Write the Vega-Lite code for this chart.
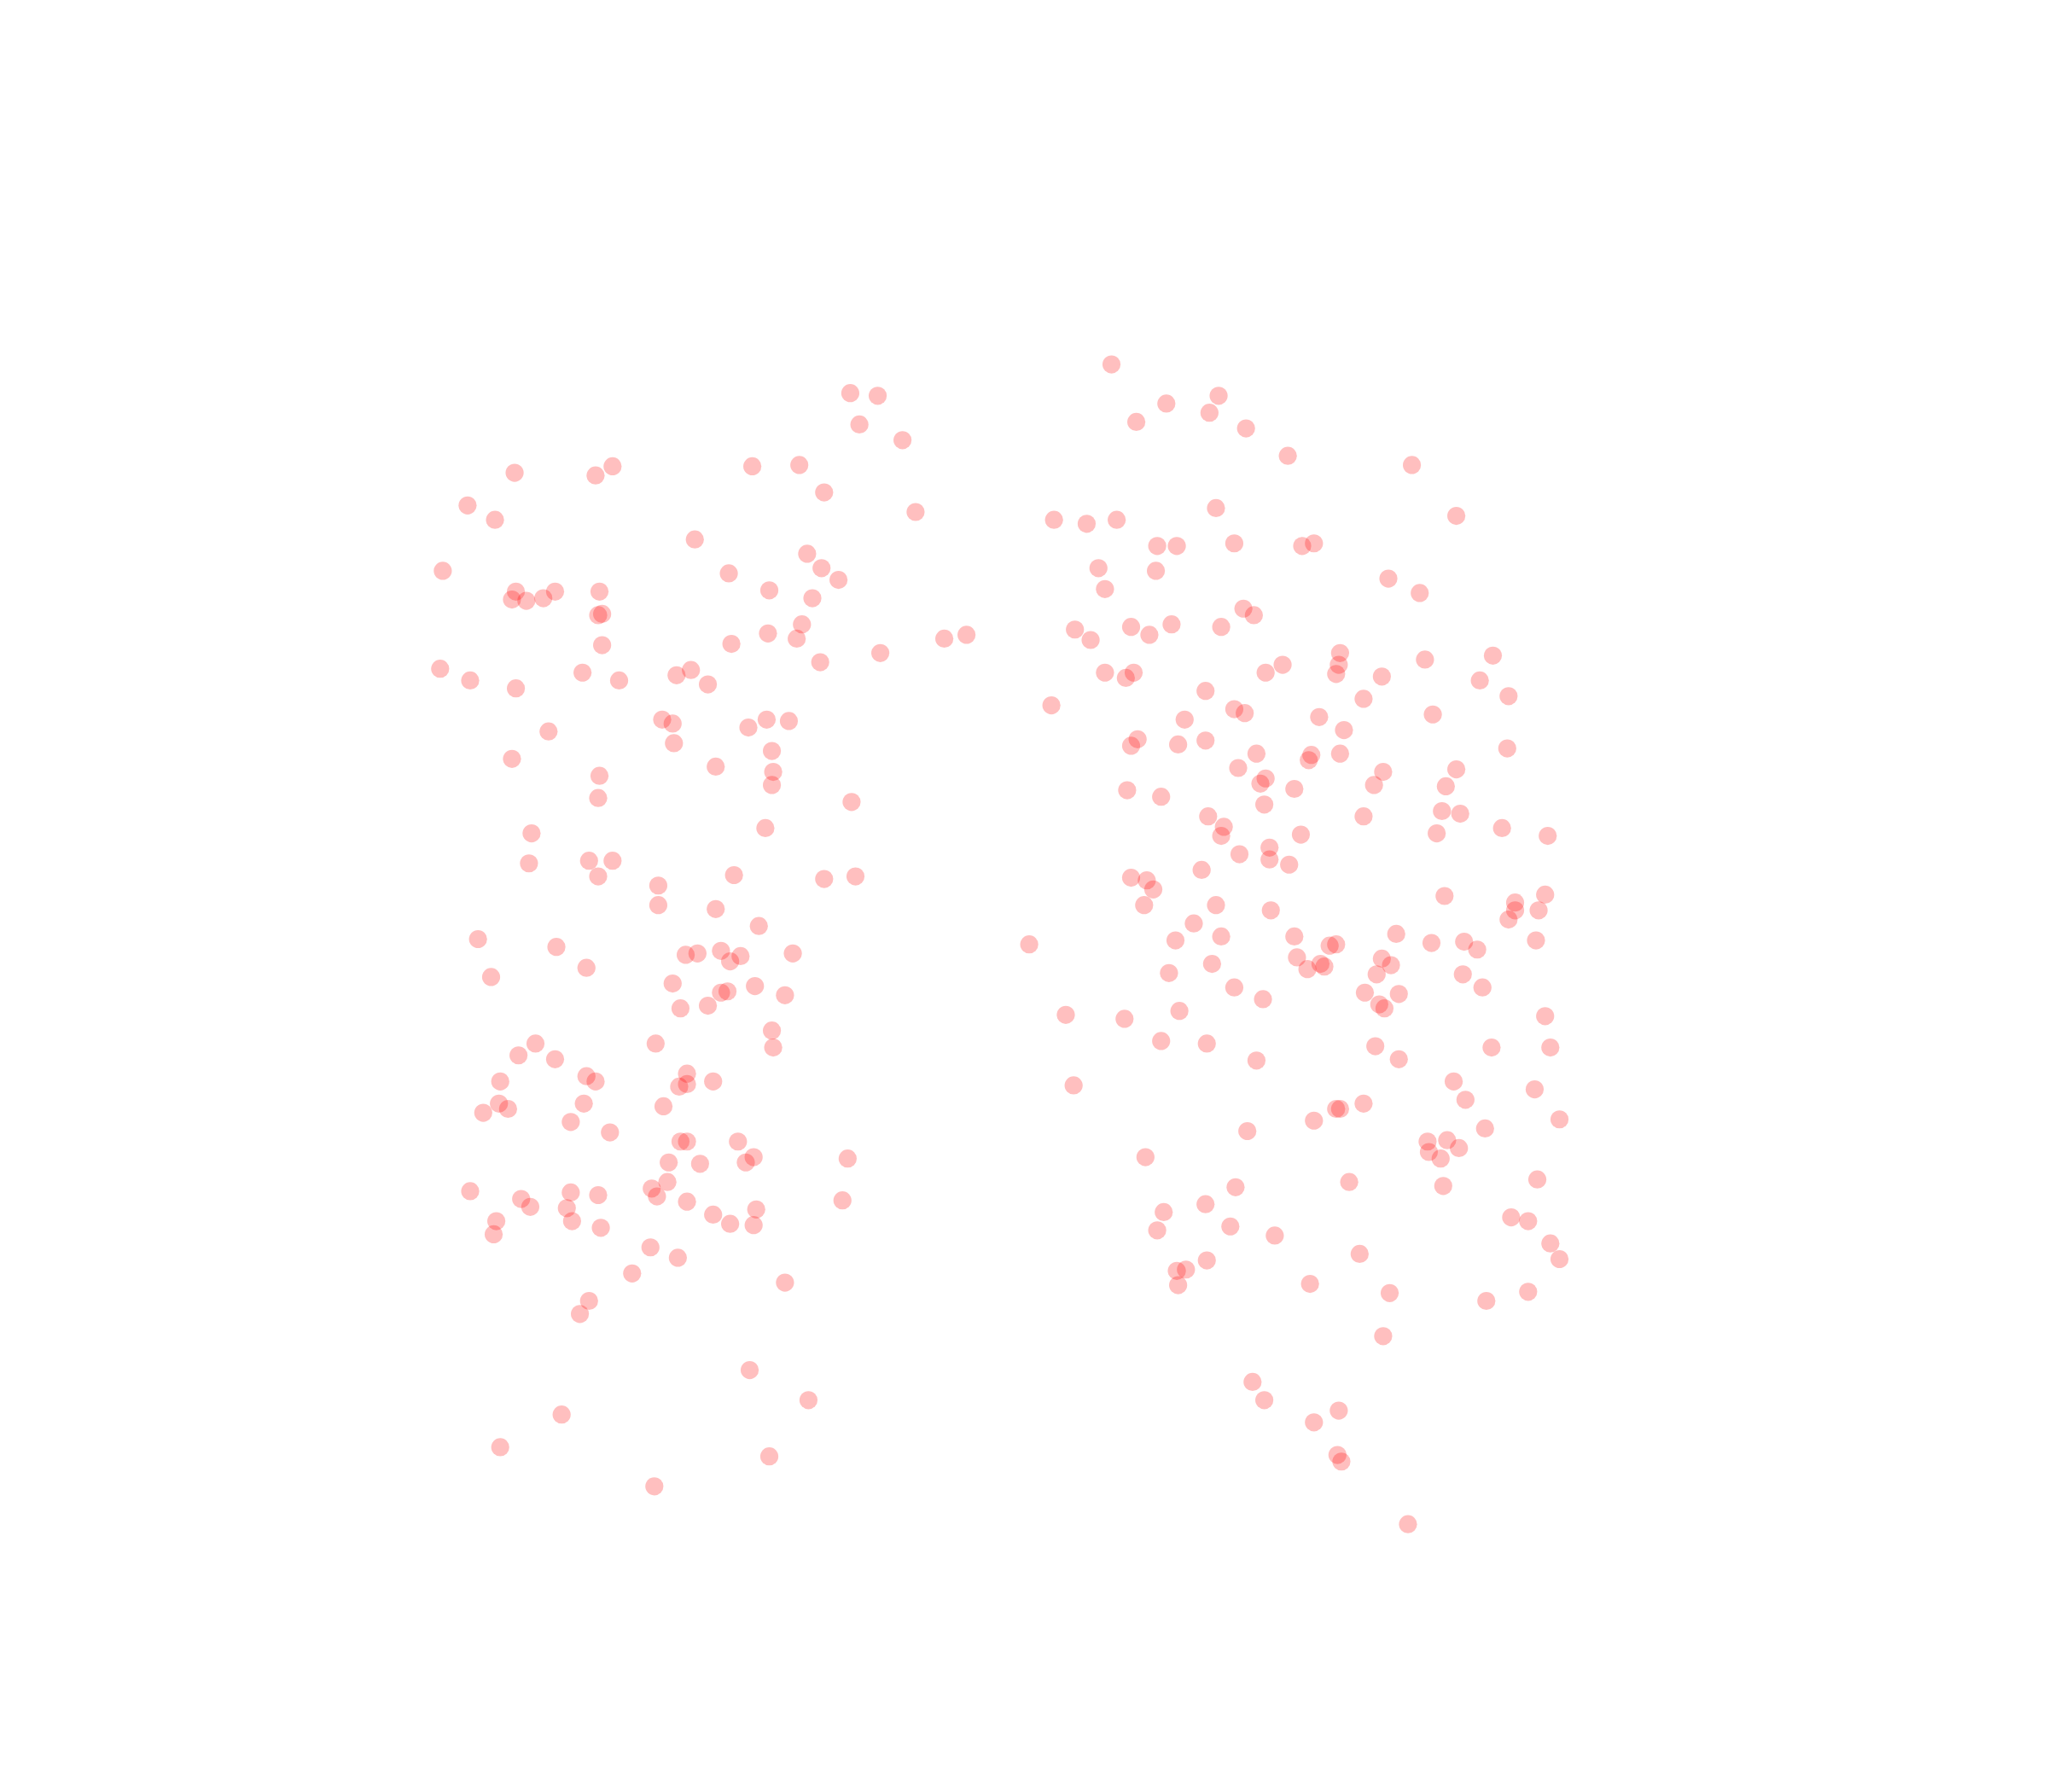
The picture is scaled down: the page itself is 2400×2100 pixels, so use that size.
{"$schema":"https://vega.github.io/schema/vega-lite/v6.json","autosize":{"type":"fit","contains":"padding"},"padding":0,"width":2400,"height":2100,"background":"white","config":{"view":{"stroke":null}},"data":{"values":[[651,301],[672,303],[658,325],[691,337],[394,362],[456,364],[469,357],[576,357],[612,356],[631,377],[358,387],[379,398],[701,392],[532,413],[618,424],[629,435],[642,444],[558,439],[339,437],[395,453],[392,459],[403,460],[416,458],[425,453],[459,453],[589,452],[622,458],[461,470],[458,471],[614,478],[588,485],[610,489],[723,489],[740,486],[461,494],[560,493],[674,500],[628,507],[337,512],[360,521],[395,527],[446,515],[474,521],[518,517],[529,513],[542,524],[507,551],[515,554],[516,569],[573,557],[587,551],[604,552],[420,560],[591,575],[392,581],[548,587],[592,591],[591,601],[459,594],[458,611],[652,614],[407,638],[586,634],[405,661],[451,659],[469,659],[458,671],[562,670],[631,673],[655,671],[504,678],[504,693],[548,696],[581,709],[366,719],[426,725],[525,731],[534,730],[552,728],[567,732],[559,736],[607,730],[449,741],[376,748],[515,753],[578,755],[552,760],[557,759],[601,762],[542,770],[521,772],[591,789],[592,802],[502,799],[410,799],[397,808],[425,811],[449,824],[456,828],[383,828],[526,822],[546,828],[520,832],[526,830],[382,845],[389,849],[370,852],[447,845],[508,847],[437,859],[467,867],[521,874],[526,874],[565,874],[577,886],[571,890],[649,887],[512,890],[536,891],[511,905],[499,910],[503,916],[360,912],[399,918],[406,924],[437,913],[458,915],[434,925],[438,935],[526,920],[546,930],[559,937],[577,938],[579,926],[645,919],[380,935],[378,945],[460,940],[498,955],[519,963],[484,975],[601,982],[451,996],[444,1006],[574,1049],[619,1072],[430,1083],[383,1108],[589,1115],[501,1138],[851,279],[893,309],[933,303],[926,316],[870,323],[954,328],[986,349],[1081,356],[931,389],[1115,395],[807,398],[832,401],[855,398],[886,418],[901,418],[945,416],[997,418],[1006,416],[841,435],[885,437],[846,451],[1063,443],[1087,454],[952,466],[960,471],[866,480],[823,482],[835,490],[880,486],[897,478],[935,480],[1026,500],[1025,509],[1023,516],[982,509],[969,515],[846,515],[868,515],[862,519],[1058,518],[1091,505],[1143,502],[1133,521],[1155,533],[1044,535],[923,529],[805,540],[945,543],[953,546],[907,551],[1010,549],[1097,547],[1029,559],[871,566],[866,571],[902,570],[923,567],[962,577],[1004,578],[1002,582],[1026,577],[1154,573],[948,588],[1115,589],[1059,591],[969,596],[965,600],[1052,601],[1107,602],[991,604],[863,605],[889,610],[968,616],[1104,621],[1118,623],[925,625],[1044,625],[937,633],[935,640],[996,639],[1100,638],[1150,634],[1185,640],[972,649],[949,654],[972,658],[987,662],[920,666],[866,672],[878,674],[883,681],[876,693],[931,693],[973,697],[1106,686],[1160,691],[1160,697],[1155,704],[1178,697],[1183,685],[914,707],[900,720],[935,717],[991,717],[1069,715],[1018,724],[1023,723],[1096,722],[1121,721],[1131,727],[1176,720],[788,723],[993,733],[928,738],[1058,734],[1011,738],[1014,740],[1001,742],[1065,739],[895,745],[1054,746],[1120,746],[945,756],[1045,760],[1071,761],[1135,756],[967,765],[1056,769],[1060,772],[903,774],[816,777],[861,780],[1183,778],[889,797],[924,799],[1053,801],[1142,802],[1187,802],[962,812],[1071,811],[1113,828],[822,831],[1175,834],[1122,842],[1044,845],[1023,849],[1026,849],[1006,858],[955,866],[1194,857],[1137,864],[1093,874],[1108,873],[1094,882],[1117,879],[1103,887],[877,886],[1033,905],[946,909],[1105,908],[1177,903],[923,922],[891,928],[1157,932],[1170,935],[942,939],[886,942],[976,946],[1187,952],[1041,960],[924,965],[1194,964],[901,973],[908,972],[902,984],[1003,983],[1064,990],[1170,989],[1138,996],[1059,1023],[959,1058],[968,1072],[1025,1080],[1006,1089],[1024,1114],[1027,1119],[1078,1167]]},"mark":{"type":"circle","color":"#ff0000","opacity":0.25,"size":450},"encoding":{"x":{"field":"0","type":"quantitative","scale":{"domain":[0,1568],"nice":false,"zero":false},"axis":null},"y":{"field":"1","type":"quantitative","scale":{"domain":[1372,0],"nice":false,"zero":false},"axis":null}}}
